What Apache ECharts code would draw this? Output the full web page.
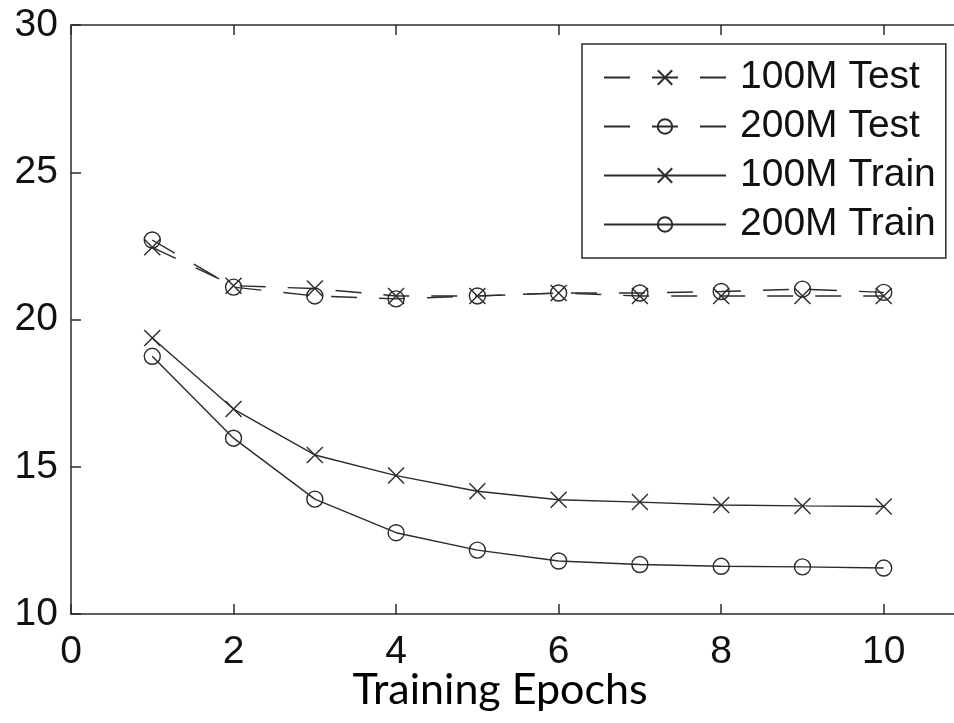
<!DOCTYPE html>
<html>
<head>
<meta charset="utf-8">
<script src="https://cdn.jsdelivr.net/npm/echarts@6/dist/echarts.min.js"></script>
<style>
  html, body { margin: 0; padding: 0; background: #fff; }
  #chart { width: 954px; height: 723px; }
</style>
</head>
<body>
<div id="chart"></div>
<script>
const epochs = [1, 2, 3, 4, 5, 6, 7, 8, 9, 10];
const test100M = [22.45, 21.15, 21.05, 20.8, 20.8, 20.9, 20.8, 20.8, 20.8, 20.8];
const test200M = [22.7, 21.1, 20.8, 20.7, 20.8, 20.9, 20.9, 20.95, 21.03, 20.92];
const train100M = [19.37, 16.96, 15.4, 14.7, 14.17, 13.88, 13.8, 13.7, 13.67, 13.65];
const train200M = [18.75, 15.97, 13.9, 12.76, 12.17, 11.8, 11.68, 11.62, 11.6, 11.56];
const seriesNames = ['100M Test', '200M Test', '100M Train', '200M Train'];

const chart = echarts.init(document.getElementById('chart'));

const ink = '#2b2b2b';
const crossPath = 'path://M0,0L10,10M10,0L0,10';
const labelFont = { fontFamily: '"Liberation Sans", Arial, sans-serif', fontSize: 39, color: '#111' };

// one line series, dashed for the test curves
const makeSeries = (name, values, symbol, dashed) => ({
  name,
  type: 'line',
  data: epochs.map((e, i) => [e, values[i]]),
  symbol,
  symbolSize: 16,
  showSymbol: true,
  lineStyle: { color: ink, width: 1.4, type: dashed ? [26, 22] : 'solid' },
  itemStyle: { color: 'transparent', borderColor: ink, borderWidth: 1.4 },
  emphasis: { disabled: true },
  animation: false,
});

// the plot box runs past the right edge of the picture (x = 11 is off canvas)
const frameAxis = {
  type: 'value',
  min: 0,
  max: 11,
  interval: 2,
  splitLine: { show: false },
  axisLine: { show: true, onZero: false, lineStyle: { color: ink, width: 1.5 } },
  axisTick: { show: true, inside: true, length: 10, lineStyle: { color: ink, width: 1.5 } },
};

const option = {
  backgroundColor: '#fff',
  grid: { left: 71, width: 894, top: 25, bottom: 109, containLabel: false, outerBoundsMode: 'none' },
  legend: {
    orient: 'vertical',
    left: 582,
    top: 44,
    data: seriesNames,
    itemWidth: 122,
    itemHeight: 18,
    itemGap: 10,
    padding: [14, 10, 14, 21],
    borderColor: ink,
    borderWidth: 1.5,
    backgroundColor: '#fff',
    textStyle: { ...labelFont, padding: [0, 0, 0, 9] },
    selectedMode: false,
  },
  xAxis: [
    {
      ...frameAxis,
      axisLabel: {
        ...labelFont,
        margin: 19,
        formatter: (v) => (v % 2 === 0 ? String(v) : ''),
      },
      name: 'Training Epochs',
      nameLocation: 'middle',
      nameGap: 55,
      nameMoveOverlap: false,
      nameTextStyle: { fontFamily: 'Lato, "Open Sans", sans-serif', fontSize: 43, color: '#000', padding: [0, 36, 0, 0] },
    },
    {
      ...frameAxis,
      position: 'top',
      axisLabel: { show: false },
    },
  ],
  yAxis: {
    type: 'value',
    min: 10,
    max: 30,
    interval: 5,
    splitLine: { show: false },
    axisLine: { show: true, onZero: false, lineStyle: { color: ink, width: 1.5 } },
    axisTick: { show: true, inside: true, length: 10, lineStyle: { color: ink, width: 1.5 } },
    axisLabel: { ...labelFont, margin: 13 },
  },
  series: [
    makeSeries(seriesNames[0], test100M, crossPath, true),
    makeSeries(seriesNames[1], test200M, 'circle', true),
    makeSeries(seriesNames[2], train100M, crossPath, false),
    makeSeries(seriesNames[3], train200M, 'circle', false),
  ],
};

chart.setOption(option);
</script>
</body>
</html>
